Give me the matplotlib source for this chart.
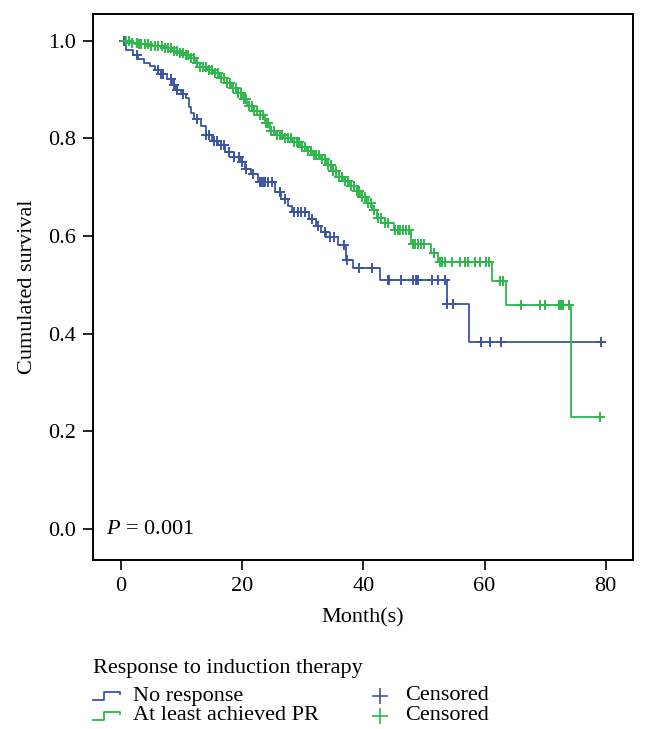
import numpy as np
import matplotlib
matplotlib.use('Agg')
import matplotlib.pyplot as plt
from matplotlib.lines import Line2D

plt.rcParams['font.family'] = ['Liberation Serif', 'DejaVu Serif']
plt.rcParams['font.size'] = 16
plt.rcParams['mathtext.fontset'] = 'custom'
plt.rcParams['mathtext.it'] = 'Liberation Serif:italic'
plt.rcParams['mathtext.rm'] = 'Liberation Serif'

# Кривые Каплана-Мейера
no_resp_t = [0, 0.8, 2.0, 2.8, 3.8, 4.8, 5.6, 6.6, 7.6, 8.4, 9.0, 10.0, 10.8, 11.2, 11.6,
             12.1, 13.2, 14.0, 15.0, 16.0, 17.2, 18.6, 19.6, 20.4, 21.5, 22.6, 25.4, 26.4,
             27.6, 28.2, 31.0, 32.2, 33.0, 33.8, 35.8, 37.1, 38.3, 42.7, 53.8, 57.5]
no_resp_s = [1.0, 0.982, 0.972, 0.962, 0.955, 0.948, 0.940, 0.932, 0.922, 0.910, 0.900, 0.892,
             0.882, 0.865, 0.852, 0.840, 0.826, 0.808, 0.795, 0.786, 0.772, 0.762, 0.752, 0.738,
             0.727, 0.710, 0.690, 0.675, 0.662, 0.650, 0.635, 0.620, 0.608, 0.598, 0.582, 0.551,
             0.535, 0.510, 0.460, 0.383]
no_resp_end = 79.2
no_resp_cens = [0.5, 2.7, 6.2, 6.6, 7.0, 8.3, 8.7, 9.2, 10.2, 12.6, 14.0, 14.5, 15.3, 15.8, 16.6,
                17.0, 17.8, 18.6, 19.5, 20.0, 20.6, 21.8, 23.0, 23.2, 23.5, 23.8, 24.3, 25.0, 26.2,
                27.0, 28.5, 29.2, 29.8, 30.4, 31.6, 32.6, 33.6, 34.5, 35.2, 36.8, 37.3, 39.3, 41.4,
                44.0, 44.3, 46.3, 48.2, 48.7, 49.1, 51.3, 52.3, 53.5, 53.8, 54.8, 59.4, 60.9, 62.7,
                79.2]

pr_t = [0, 1.5, 3.0, 5.0, 7.0, 8.5, 9.7, 10.6, 11.4, 12.2, 13.0, 14.2, 15.2, 16.3, 17.5, 18.3,
        19.1, 20.0, 20.8, 21.8, 22.9, 23.8, 24.6, 25.6, 26.8, 28.2, 29.5, 30.6, 31.7, 32.8, 34.0,
        35.0, 36.0, 36.8, 37.6, 38.5, 39.4, 40.4, 41.4, 42.2, 43.5, 45.0, 47.8, 51.2, 52.4, 61.2,
        63.5, 74.2]
pr_s = [1.0, 0.996, 0.993, 0.990, 0.985, 0.980, 0.975, 0.970, 0.964, 0.955, 0.947, 0.940, 0.934,
        0.924, 0.913, 0.903, 0.893, 0.880, 0.866, 0.857, 0.848, 0.832, 0.815, 0.808, 0.801, 0.792,
        0.783, 0.774, 0.766, 0.757, 0.746, 0.734, 0.722, 0.712, 0.702, 0.692, 0.680, 0.668, 0.654,
        0.638, 0.626, 0.613, 0.584, 0.566, 0.547, 0.508, 0.458, 0.230]
pr_end = 79.0
pr_cens = [0.8, 1.3, 1.8, 2.6, 3.0, 3.4, 3.9, 4.5, 5.0, 5.6, 6.2, 6.8, 7.3, 7.8, 8.2, 8.8, 9.3,
           9.8, 10.2, 10.7, 11.1, 11.6, 12.0, 12.5, 13.0, 13.5, 14.0, 14.6, 15.0, 15.5, 16.0, 16.5,
           17.0, 17.5, 18.0, 18.5, 19.0, 19.4, 19.8, 20.3, 20.7, 21.2, 21.6, 22.0, 22.5, 23.0, 23.4,
           23.9, 24.3, 24.8, 25.2, 25.7, 26.2, 26.6, 27.1, 27.6, 28.0, 28.5, 29.0, 29.4, 29.9, 30.4,
           30.8, 31.3, 31.8, 32.2, 32.7, 33.2, 33.6, 34.1, 34.6, 35.0, 35.5, 36.0, 36.5, 37.0, 37.4,
           37.9, 38.4, 38.9, 39.3, 39.8, 40.3, 40.8, 41.2, 41.7, 42.4, 43.0, 43.6, 44.1, 45.2, 45.7,
           46.1, 46.6, 47.0, 47.5, 48.2, 48.6, 49.0, 49.5, 50.0, 51.6, 52.6, 53.0, 53.5, 54.6, 55.9,
           56.8, 57.3, 58.4, 59.2, 60.2, 60.8, 62.5, 63.0, 66.0, 69.1, 70.0, 72.3, 72.6, 72.9, 74.0,
           79.0]

x_ticks = [0, 20, 40, 60, 80]
y_ticks = [0.0, 0.2, 0.4, 0.6, 0.8, 1.0]

blue = '#3b55a6'
green = '#2db84b'


def step_value(times, surv, t):
    idx = np.searchsorted(times, t, side='right') - 1
    return np.asarray(surv)[idx]


fig = plt.figure(figsize=(6.48, 7.29), dpi=100)
ax = fig.add_axes([93 / 648, 1 - 560 / 729, (633 - 93) / 648, (560 - 14) / 729])

for times, surv, end, cens, col in [(no_resp_t, no_resp_s, no_resp_end, no_resp_cens, blue),
                                    (pr_t, pr_s, pr_end, pr_cens, green)]:
    tt = list(times) + [end]
    ss = list(surv) + [surv[-1]]
    ax.step(tt, ss, where='post', color=col, lw=1.3)
    ax.plot(cens, step_value(times, surv, cens), ls='none', marker='+',
            ms=7.5, mew=1.4, color=col)

ax.set_xlim(-4.6, 84.5)
ax.set_ylim(-0.0635, 1.055)
ax.set_xticks(x_ticks)
ax.set_yticks(y_ticks)
ax.set_yticklabels(['%.1f' % v for v in y_ticks])
ax.tick_params(direction='out', length=7, width=1.2, pad=5)
for sp in ax.spines.values():
    sp.set_linewidth(1.4)
ax.set_xlabel('Month(s)', labelpad=9)
ax.set_ylabel('Cumulated survival', labelpad=8)
ax.text(0.025, (0 + 0.0635) / 1.1185, r'$P$ = 0.001', transform=ax.transAxes,
        ha='left', va='center')

# Легенда под графиком
fig.text(93 / 648, 1 - 669 / 729, 'Response to induction therapy', ha='left', va='center')
rows = [(696, blue, 'No response'), (716, green, 'At least achieved PR')]
for y, col, lab in rows:
    yf = 1 - y / 729
    h = 8 / 729
    xs = np.array([93, 104, 104, 120, 120]) / 648
    ys = np.array([yf - h / 2, yf - h / 2, yf + h / 2, yf + h / 2, yf + h / 4])
    fig.add_artist(Line2D(xs, ys, color=col, lw=1.3, transform=fig.transFigure))
    fig.text(133 / 648, yf, lab, ha='left', va='center')
    fig.add_artist(Line2D([380 / 648], [yf], marker='+', ms=11, mew=1.2, color=col,
                          transform=fig.transFigure))
    fig.text(405 / 648, yf, 'Censored', ha='left', va='center')

fig.savefig('out.png', dpi=100)
